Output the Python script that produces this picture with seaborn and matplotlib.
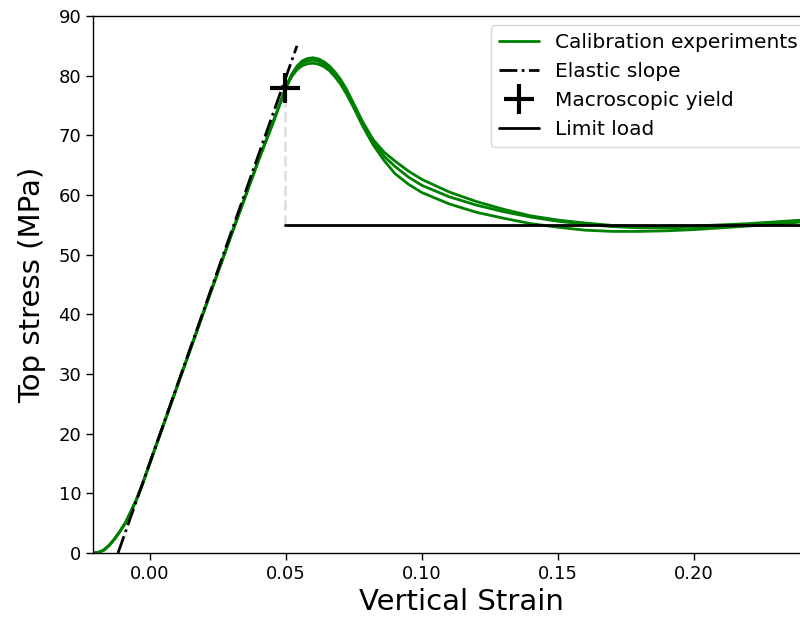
import numpy as np
import pandas as pd
import seaborn as sns
import matplotlib
matplotlib.use("Agg")
import matplotlib.pyplot as plt

# strain values shared by the three calibration runs
strain = [-0.0205, -0.019, -0.017, -0.015, -0.013, -0.011, -0.009, -0.007, -0.005, -0.003,
          0.0, 0.01, 0.02, 0.03, 0.04, 0.045, 0.048,
          0.050, 0.052, 0.054, 0.056, 0.058, 0.060, 0.062, 0.064, 0.066, 0.068,
          0.070, 0.072, 0.075, 0.078, 0.082, 0.086, 0.090,
          0.095, 0.100, 0.110, 0.120, 0.130, 0.140, 0.150, 0.160, 0.170, 0.180,
          0.190, 0.200, 0.210, 0.220, 0.230, 0.240, 0.250]

rise = [0.0, 0.1, 0.5, 1.3, 2.4, 3.7, 5.1, 7.0, 9.0, 11.3,
        15.2, 28.0, 40.8, 53.5, 66.0, 71.9, 75.6]

stress_1 = rise + [78.2, 80.2, 81.6, 82.5, 82.9, 83.0, 82.8, 82.3, 81.6, 80.6,
                   79.4, 77.9, 75.2, 72.4, 69.3, 67.2, 65.7,
                   64.0, 62.6, 60.5, 58.9, 57.6, 56.5, 55.8, 55.3, 54.9, 54.7,
                   54.7, 54.8, 55.0, 55.2, 55.5, 55.8, 56.2]
stress_2 = rise + [78.1, 80.0, 81.3, 82.1, 82.5, 82.6, 82.4, 81.9, 81.2, 80.2,
                   79.0, 77.5, 74.9, 72.1, 68.9, 66.5, 64.8,
                   63.0, 61.6, 59.7, 58.3, 57.2, 56.3, 55.6, 55.1, 54.7, 54.5,
                   54.5, 54.6, 54.8, 55.0, 55.3, 55.7, 56.1]
stress_3 = rise + [78.0, 79.8, 81.0, 81.7, 82.0, 82.1, 81.9, 81.5, 80.8, 79.8,
                   78.6, 77.1, 74.5, 71.7, 68.4, 65.8, 63.6,
                   61.8, 60.4, 58.5, 57.1, 56.1, 55.2, 54.6, 54.1, 53.9, 53.9,
                   54.0, 54.2, 54.5, 54.8, 55.1, 55.5, 55.9]

elastic_strain = [-0.0118, 0.0540]
elastic_stress = [0.0, 85.0]

yield_strain = 0.0496
yield_stress = 78.0
limit_load = 55.0
limit_strain = [yield_strain, 0.26]

sns.set_style("ticks")
plt.rcParams['font.family'] = ['DejaVu Sans']
plt.rcParams['text.color'] = 'black'

fig = plt.figure(figsize=(8, 6.21), dpi=100)
# axes run past the right edge of the figure, as in the original
ax = fig.add_axes([93 / 800, 68 / 621, 737 / 800, 537 / 621])

df = pd.DataFrame({
    "strain": strain * 3,
    "stress": stress_1 + stress_2 + stress_3,
    "run": [1] * len(strain) + [2] * len(strain) + [3] * len(strain),
})

for k, (run, sub) in enumerate(df.groupby("run")):
    sns.lineplot(data=sub, x="strain", y="stress", color="green", lw=2, sort=False,
                 estimator=None, ax=ax,
                 label="Calibration experiments" if k == 0 else None)

sns.lineplot(x=elastic_strain, y=elastic_stress, color="black", lw=2, ax=ax,
             linestyle="-.", label="Elastic slope")

# vertical guide from yield point down to limit load
ax.plot([yield_strain, yield_strain], [limit_load, yield_stress], color="#e0e0e0",
        lw=2, linestyle="--", zorder=1)
ax.plot([yield_strain], [yield_stress], "+", color="black", markersize=21, mew=3,
        label="Macroscopic yield")
sns.lineplot(x=limit_strain, y=[limit_load, limit_load], color="black", lw=2, ax=ax,
             label="Limit load")

ax.set_xlim(-0.021, 0.25)
ax.set_ylim(0, 90)
ax.set_xticks([0.0, 0.05, 0.10, 0.15, 0.20])
ax.set_xticklabels(["0.00", "0.05", "0.10", "0.15", "0.20"])
ax.set_yticks(range(0, 91, 10))
ax.tick_params(labelsize=13, length=5, width=1, colors="black")
for s in ax.spines.values():
    s.set_color("black")
    s.set_linewidth(1)
ax.spines['right'].set_visible(False)
ax.set_xlabel("Vertical Strain", fontsize=21, color="black")
ax.set_ylabel("Top stress (MPa)", fontsize=21, color="black", labelpad=9)

ax.legend(loc="upper right", fontsize=14.5, frameon=True, framealpha=0.8,
          edgecolor="0.8", fancybox=True, borderaxespad=0,
          bbox_to_anchor=(806 / 800, 1 - 25 / 621), bbox_transform=fig.transFigure)

fig.savefig("out.png", dpi=100)
